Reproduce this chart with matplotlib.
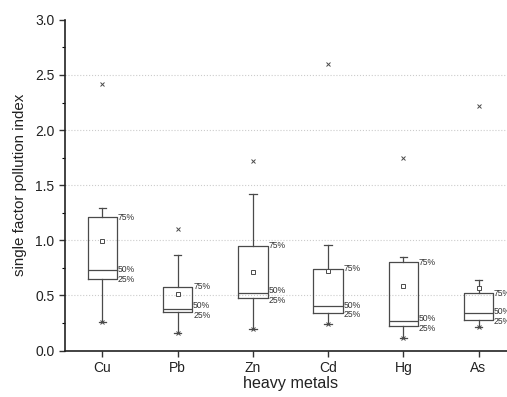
import matplotlib
matplotlib.use("Agg")
import matplotlib.pyplot as plt
import numpy as np

plt.rcParams['font.family'] = ['Liberation Sans', 'DejaVu Sans']

metals = ['Cu', 'Pb', 'Zn', 'Cd', 'Hg', 'As']
whisk_lo = [0.26, 0.16, 0.20, 0.24, 0.11, 0.21]
q1 = [0.65, 0.35, 0.48, 0.34, 0.22, 0.28]
med = [0.73, 0.38, 0.52, 0.40, 0.27, 0.34]
q3 = [1.21, 0.58, 0.95, 0.74, 0.80, 0.52]
whisk_hi = [1.29, 0.87, 1.42, 0.96, 0.85, 0.64]
means = [0.99, 0.51, 0.71, 0.72, 0.59, 0.57]
outliers = [2.42, 1.10, 1.72, 2.60, 1.75, 2.22]

fig = plt.figure(figsize=(5.07, 3.97), dpi=100)
ax = fig.add_axes([0.128, 0.117, 0.89, 0.833])

stats = []
for i in range(len(metals)):
    stats.append({'label': metals[i], 'whislo': whisk_lo[i], 'q1': q1[i],
                  'med': med[i], 'q3': q3[i], 'whishi': whisk_hi[i],
                  'mean': means[i], 'fliers': []})

lc = '#4a4a4a'
pos = np.arange(1, len(metals) + 1)
ax.bxp(stats, positions=pos, widths=0.39, showmeans=True, showfliers=False,
       boxprops=dict(color=lc, linewidth=0.9),
       medianprops=dict(color=lc, linewidth=0.9),
       whiskerprops=dict(color=lc, linewidth=0.9),
       capprops=dict(color=lc, linewidth=0.9),
       capwidths=0.1,
       meanprops=dict(marker='s', markersize=3.5, markerfacecolor='white',
                      markeredgecolor=lc, markeredgewidth=0.7))

# min markers and outliers
ax.plot(pos, whisk_lo, 'x', color=lc, markersize=3.5, markeredgewidth=0.7)
ax.plot(pos, outliers, 'x', color=lc, markersize=3.5, markeredgewidth=0.7)

# percentile labels
for i in range(len(metals)):
    y75, y50, y25 = q3[i], med[i], q1[i]
    gap = 0.085
    if y50 - y25 < gap:
        mid = (y50 + y25) / 2
        y50, y25 = mid + gap / 2, mid - gap / 2
    for y, t in [(y75, '75%'), (y50, '50%'), (y25, '25%')]:
        ax.text(pos[i] + 0.205, y, t, fontsize=6.2, color='#333333',
                va='center', ha='left')

ax.set_xlim(0.5, 6.5)
ax.set_ylim(0, 3.0)
ax.set_xticks(pos)
ax.set_xticklabels(metals)
ax.set_yticks(np.arange(0, 3.01, 0.5))
ax.set_yticklabels(['%.1f' % v for v in np.arange(0, 3.01, 0.5)])
ax.set_yticks(np.arange(0.25, 3.0, 0.5), minor=True)
ax.tick_params(axis='both', labelsize=10, color='#333333', labelcolor='#222222',
               width=1, length=4.5, pad=3)
ax.tick_params(axis='y', which='minor', length=2.5, width=0.8)
for y in [0.5, 1.0, 1.5, 2.0, 2.5]:
    ax.axhline(y, color='#cccccc', linestyle=':', linewidth=0.8, zorder=0)

for s in ['top', 'right']:
    ax.spines[s].set_visible(False)
for s in ['left', 'bottom']:
    ax.spines[s].set_linewidth(1.2)
    ax.spines[s].set_color('#222222')

ax.set_xlabel('heavy metals', fontsize=11.6, color='#222222', labelpad=1)
ax.set_ylabel('single factor pollution index', fontsize=10.9, color='#222222',
              labelpad=6)

fig.savefig('out.png', dpi=100)
